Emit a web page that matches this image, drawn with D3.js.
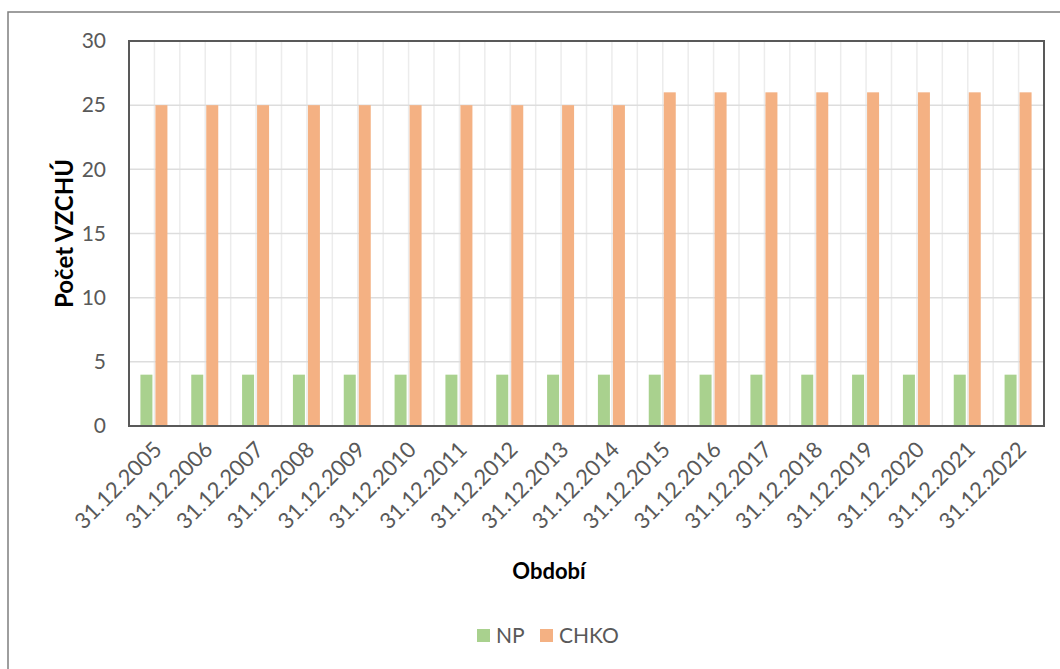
<!doctype html>
<html>
<head>
<meta charset="utf-8">
<script src="https://d3js.org/d3.v7.min.js"></script>
<style>
  body { margin: 0; background: #fff; }
  text { font-family: Lato, "Open Sans", sans-serif; }
</style>
</head>
<body>
<svg width="1060" height="669"></svg>
<script>
// data
var years = ["31.12.2005", "31.12.2006", "31.12.2007", "31.12.2008", "31.12.2009", "31.12.2010",
             "31.12.2011", "31.12.2012", "31.12.2013", "31.12.2014", "31.12.2015", "31.12.2016",
             "31.12.2017", "31.12.2018", "31.12.2019", "31.12.2020", "31.12.2021", "31.12.2022"];
var np   = [4, 4, 4, 4, 4, 4, 4, 4, 4, 4, 4, 4, 4, 4, 4, 4, 4, 4];
var chko = [25, 25, 25, 25, 25, 25, 25, 25, 25, 25, 26, 26, 26, 26, 26, 26, 26, 26];
var seriesNames = ["NP", "CHKO"];
var yTicks = [0, 5, 10, 15, 20, 25, 30];

var colors = { NP: "#A9D18E", CHKO: "#F4B183" };

var svg = d3.select("svg");
var pLeft = 129, pTop = 41, pRight = 1044, pBottom = 426;

// outer chart frame (only left/top visible)
svg.append("rect")
  .attr("x", 8).attr("y", 12)
  .attr("width", 1100).attr("height", 700)
  .attr("fill", "none").attr("stroke", "#7f7f7f").attr("stroke-width", 1.5);

var x = d3.scaleBand().domain(years).range([pLeft, pRight]);
var y = d3.scaleLinear().domain([0, 30]).range([pBottom, pTop]);
var sub = d3.scaleBand().domain(seriesNames).range([-14, 13]).paddingInner(0.2);

var g = svg.append("g");

// vertical gridlines at band edges and centers
var vlines = [];
years.forEach(function(d) {
  vlines.push(x(d));
  vlines.push(x(d) + x.bandwidth() / 2);
});
g.selectAll(".vgrid").data(vlines).enter().append("line")
  .attr("x1", d => d).attr("x2", d => d)
  .attr("y1", pTop).attr("y2", pBottom)
  .attr("stroke", "#ECECEC").attr("stroke-width", 1.5);

// horizontal gridlines
g.selectAll(".hgrid").data(yTicks).enter().append("line")
  .attr("x1", pLeft).attr("x2", pRight)
  .attr("y1", d => y(d)).attr("y2", d => y(d))
  .attr("stroke", "#DDDDDD").attr("stroke-width", 1.5);

// bars
var rows = years.map(function(d, i) { return { year: d, NP: np[i], CHKO: chko[i] }; });
var groups = g.selectAll(".grp").data(rows).enter().append("g")
  .attr("transform", d => "translate(" + (x(d.year) + x.bandwidth() / 2) + ",0)");
groups.selectAll("rect").data(d => seriesNames.map(k => ({ key: k, value: d[k] })))
  .enter().append("rect")
  .attr("x", d => sub(d.key))
  .attr("width", sub.bandwidth())
  .attr("y", d => y(d.value))
  .attr("height", d => pBottom - y(d.value))
  .attr("fill", d => colors[d.key]);

// plot frame
svg.append("rect")
  .attr("x", pLeft).attr("y", pTop)
  .attr("width", pRight - pLeft).attr("height", pBottom - pTop)
  .attr("fill", "none").attr("stroke", "#595959").attr("stroke-width", 2);

// y axis labels
var yAxis = svg.append("g")
  .attr("transform", "translate(" + pLeft + ",0)")
  .call(d3.axisLeft(y).tickValues(yTicks).tickSize(0).tickPadding(23));
yAxis.select(".domain").remove();
yAxis.selectAll("text")
  .style("font-family", "Lato, 'Open Sans', sans-serif")
  .style("font-size", "21px").attr("fill", "#595959");

// x axis labels
var xAxis = svg.append("g")
  .attr("transform", "translate(0," + pBottom + ")")
  .call(d3.axisBottom(x).tickSize(0).tickFormat(""));
xAxis.select(".domain").remove();
xAxis.selectAll(".tick").append("text")
  .attr("transform", "translate(-2,14) rotate(-45)")
  .attr("text-anchor", "end")
  .attr("dy", "0.7em")
  .style("font-family", "Lato, 'Open Sans', sans-serif")
  .style("font-size", "22px")
  .attr("fill", "#595959")
  .text(d => d);

// axis titles
svg.append("text")
  .attr("transform", "translate(73," + ((pTop + pBottom) / 2) + ") rotate(-90)")
  .attr("text-anchor", "middle")
  .style("font-size", "24px").style("font-weight", "bold")
  .attr("fill", "#000")
  .text("Počet VZCHÚ");

svg.append("text")
  .attr("x", 549).attr("y", 579)
  .attr("text-anchor", "middle")
  .style("font-size", "22px").style("font-weight", "bold")
  .attr("fill", "#000")
  .text("Období");

// legend
var legendX = [477, 540];
var leg = svg.selectAll(".leg").data(seriesNames).enter().append("g")
  .attr("transform", (d, i) => "translate(" + legendX[i] + ",629)");
leg.append("rect").attr("width", 13).attr("height", 13).attr("fill", d => colors[d]);
leg.append("text").attr("x", 19).attr("y", 14)
  .style("font-size", "21px").attr("fill", "#595959")
  .text(d => d);
</script>
</body>
</html>
